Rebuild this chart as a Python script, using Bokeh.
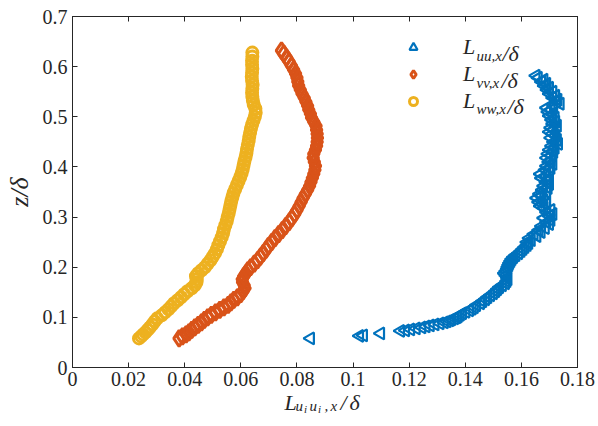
from bokeh.plotting import figure
from bokeh.layouts import column
from bokeh.models import Range1d, FixedTicker, LinearAxis, Label, Legend, LegendItem
from bokeh.embed import file_html
from bokeh.resources import INLINE

# ---------------- data ----------------
u_z = [0.058, 0.063, 0.064, 0.068, 0.073, 0.074, 0.076, 0.078, 0.080, 0.082,
       0.084, 0.086, 0.088, 0.090, 0.092, 0.094, 0.096, 0.098, 0.100, 0.102,
       0.105, 0.108, 0.111, 0.114, 0.117, 0.120, 0.124, 0.128, 0.132, 0.136,
       0.140, 0.144, 0.148, 0.152, 0.156, 0.160, 0.164, 0.168, 0.172, 0.176,
       0.180, 0.184, 0.188, 0.192, 0.196, 0.200, 0.204, 0.208, 0.212, 0.216,
       0.220, 0.224, 0.228, 0.232, 0.236, 0.240, 0.244, 0.248,
       0.250, 0.254, 0.258, 0.262, 0.266, 0.270, 0.274, 0.278, 0.282, 0.286,
       0.290, 0.294, 0.298, 0.302, 0.306, 0.310, 0.314, 0.318, 0.322, 0.326,
       0.330, 0.334, 0.338, 0.342, 0.346, 0.350, 0.354, 0.358, 0.362, 0.366,
       0.370, 0.374, 0.378, 0.382, 0.386, 0.390, 0.394, 0.398, 0.402, 0.406,
       0.410, 0.414, 0.418, 0.422, 0.426, 0.430, 0.434, 0.438, 0.442, 0.446,
       0.450, 0.454, 0.458, 0.462, 0.466, 0.470, 0.474, 0.478, 0.482, 0.486,
       0.490, 0.494, 0.498, 0.502, 0.506, 0.510, 0.514, 0.518, 0.522, 0.526,
       0.530, 0.534, 0.538, 0.542, 0.546, 0.550, 0.554, 0.558, 0.562, 0.566,
       0.570, 0.574, 0.578, 0.582]
u_x = [0.0848, 0.1023, 0.1037, 0.1098, 0.1169, 0.1187, 0.1205, 0.1225, 0.1245, 0.1260,
       0.1275, 0.1292, 0.1310, 0.1325, 0.1335, 0.1345, 0.1352, 0.1362, 0.1370, 0.1375,
       0.1382, 0.1390, 0.1402, 0.1415, 0.1424, 0.1432, 0.1440, 0.1454, 0.1462, 0.1472,
       0.1480, 0.1490, 0.1500, 0.1508, 0.1515, 0.1522, 0.1532, 0.1543, 0.1548, 0.1552,
       0.1550, 0.1545, 0.1540, 0.1545, 0.1550, 0.1552, 0.1555, 0.1558, 0.1562, 0.1566,
       0.1572, 0.1580, 0.1590, 0.1598, 0.1605, 0.1612, 0.1620, 0.1626,
       0.1620, 0.1635, 0.1628, 0.1655, 0.1645, 0.1670, 0.1662, 0.1685, 0.1672, 0.1700,
       0.1690, 0.1705, 0.1680, 0.1700, 0.1712, 0.1690, 0.1705, 0.1680, 0.1668, 0.1690,
       0.1662, 0.1680, 0.1655, 0.1672, 0.1665, 0.1690, 0.1675, 0.1695, 0.1680, 0.1700,
       0.1688, 0.1695, 0.1672, 0.1690, 0.1668, 0.1700, 0.1685, 0.1705, 0.1690, 0.1712,
       0.1698, 0.1705, 0.1690, 0.1708, 0.1695, 0.1715, 0.1700, 0.1720, 0.1708, 0.1732,
       0.1715, 0.1728, 0.1705, 0.1722, 0.1710, 0.1700, 0.1715, 0.1705, 0.1728, 0.1712,
       0.1722, 0.1708, 0.1720, 0.1700, 0.1712, 0.1695, 0.1705, 0.1690, 0.1715, 0.1738,
       0.1725, 0.1730, 0.1712, 0.1722, 0.1700, 0.1712, 0.1692, 0.1700, 0.1682, 0.1690,
       0.1672, 0.1680, 0.1660, 0.1652]

v_z = [0.058, 0.062, 0.066, 0.070, 0.075, 0.080, 0.085, 0.090, 0.095, 0.100,
       0.105, 0.110, 0.115, 0.120, 0.125, 0.130, 0.135, 0.140, 0.146, 0.152,
       0.158, 0.164, 0.170, 0.176, 0.182, 0.188, 0.194, 0.200, 0.207, 0.214,
       0.221, 0.228, 0.235, 0.242, 0.250, 0.258, 0.266, 0.274, 0.282, 0.290,
       0.298, 0.306, 0.314, 0.322, 0.330, 0.338, 0.346, 0.354, 0.362, 0.370,
       0.378, 0.386, 0.394, 0.402, 0.410, 0.418, 0.426, 0.434, 0.442, 0.450,
       0.458, 0.466, 0.474, 0.482, 0.490, 0.498, 0.506, 0.514, 0.522, 0.530,
       0.538, 0.546, 0.554, 0.562, 0.570, 0.578, 0.586, 0.594, 0.602, 0.610,
       0.618, 0.626, 0.632]
v_x = [0.0380, 0.0392, 0.0405, 0.0415, 0.0425, 0.0436, 0.0448, 0.0460, 0.0470, 0.0482,
       0.0495, 0.0510, 0.0525, 0.0540, 0.0555, 0.0565, 0.0575, 0.0588, 0.0600, 0.0608,
       0.0615, 0.0612, 0.0606, 0.0605, 0.0610, 0.0618, 0.0625, 0.0635, 0.0648, 0.0660,
       0.0670, 0.0680, 0.0690, 0.0698, 0.0710, 0.0722, 0.0735, 0.0748, 0.0760, 0.0772,
       0.0782, 0.0792, 0.0800, 0.0808, 0.0815, 0.0822, 0.0830, 0.0838, 0.0845, 0.0850,
       0.0855, 0.0860, 0.0864, 0.0866, 0.0862, 0.0858, 0.0860, 0.0866, 0.0870, 0.0872,
       0.0873, 0.0872, 0.0870, 0.0868, 0.0860, 0.0852, 0.0848, 0.0842, 0.0838, 0.0832,
       0.0826, 0.0818, 0.0812, 0.0806, 0.0803, 0.0800, 0.0795, 0.0788, 0.0780, 0.0772,
       0.0763, 0.0753, 0.0745]

w_z = [0.058, 0.062, 0.066, 0.070, 0.075, 0.080, 0.086, 0.092, 0.098, 0.104,
       0.110, 0.116, 0.122, 0.128, 0.134, 0.140, 0.146, 0.152, 0.158, 0.164,
       0.170, 0.176, 0.182, 0.188, 0.194, 0.200, 0.207, 0.214, 0.221, 0.228,
       0.236, 0.244, 0.252, 0.260, 0.268, 0.276, 0.284, 0.292, 0.300, 0.308,
       0.316, 0.324, 0.332, 0.340, 0.348, 0.356, 0.364, 0.372, 0.380, 0.388,
       0.396, 0.404, 0.412, 0.420, 0.428, 0.436, 0.444, 0.452, 0.460, 0.468,
       0.476, 0.484, 0.492, 0.500, 0.508, 0.516, 0.524, 0.532, 0.540, 0.548,
       0.556, 0.564, 0.572, 0.580, 0.588, 0.596, 0.604, 0.612, 0.620, 0.628]
w_x = [0.0237, 0.0245, 0.0252, 0.0260, 0.0268, 0.0276, 0.0285, 0.0293, 0.0302, 0.0318,
       0.0330, 0.0342, 0.0352, 0.0362, 0.0375, 0.0387, 0.0398, 0.0410, 0.0425, 0.0436,
       0.0442, 0.0443, 0.0440, 0.0448, 0.0460, 0.0472, 0.0482, 0.0492, 0.0500, 0.0508,
       0.0515, 0.0520, 0.0526, 0.0532, 0.0537, 0.0540, 0.0545, 0.0550, 0.0553, 0.0557,
       0.0560, 0.0563, 0.0566, 0.0570, 0.0574, 0.0580, 0.0586, 0.0592, 0.0598, 0.0603,
       0.0607, 0.0610, 0.0613, 0.0617, 0.0620, 0.0622, 0.0625, 0.0628, 0.0630, 0.0633,
       0.0636, 0.0640, 0.0645, 0.0650, 0.0653, 0.0652, 0.0646, 0.0643, 0.0641, 0.0640,
       0.0641, 0.0642, 0.0640, 0.0639, 0.0640, 0.0641, 0.0640, 0.0640, 0.0641, 0.0641]

x_ticks = [0, 0.02, 0.04, 0.06, 0.08, 0.1, 0.12, 0.14, 0.16, 0.18]
x_tick_labels = ["0", "0.02", "0.04", "0.06", "0.08", "0.1", "0.12", "0.14", "0.16", "0.18"]
y_ticks = [0, 0.1, 0.2, 0.3, 0.4, 0.5, 0.6, 0.7]
y_tick_labels = ["0", "0.1", "0.2", "0.3", "0.4", "0.5", "0.6", "0.7"]

# ---------------- styling ----------------
BLUE, ORANGE, YELLOW = "#0072BD", "#D95319", "#EDB120"
AX = "#262626"
FONT = "Liberation Serif"
TICK_FS = "20px"

p = figure(width=598, height=394, output_backend="svg", toolbar_location=None,
           x_range=Range1d(0, 0.18), y_range=Range1d(0, 0.7),
           min_border_left=72, min_border_right=21, min_border_top=16, min_border_bottom=27)
p.xgrid.visible = False
p.ygrid.visible = False
p.outline_line_color = AX
p.background_fill_color = "white"
p.border_fill_color = "white"

bottom_ax = p.below[0]
left_ax = p.left[0]
top_ax = LinearAxis()
right_ax = LinearAxis()
p.add_layout(top_ax, "above")
p.add_layout(right_ax, "right")

for ax in [bottom_ax, top_ax]:
    ax.ticker = FixedTicker(ticks=x_ticks)
for ax in [left_ax, right_ax]:
    ax.ticker = FixedTicker(ticks=y_ticks)
bottom_ax.major_label_overrides = dict(zip(x_ticks, x_tick_labels))
left_ax.major_label_overrides = dict(zip(y_ticks, y_tick_labels))
top_ax.major_label_overrides = {t: "" for t in x_ticks}
right_ax.major_label_overrides = {t: "" for t in y_ticks}

for ax in [bottom_ax, left_ax, top_ax, right_ax]:
    ax.axis_line_color = AX
    ax.major_tick_line_color = AX
    ax.major_tick_in = 5
    ax.major_tick_out = 0
    ax.minor_tick_line_color = None
    ax.major_label_text_font = FONT
    ax.major_label_text_font_size = TICK_FS
    ax.major_label_text_color = AX
top_ax.major_label_standoff = 0
right_ax.major_label_standoff = 0

bottom_ax.major_label_standoff = 4
left_ax.major_label_standoff = 5
left_ax.axis_label = "z/δ"
left_ax.axis_label_text_font = FONT
left_ax.axis_label_text_font_style = "italic"
left_ax.axis_label_text_font_size = "26px"
left_ax.axis_label_text_color = AX
left_ax.axis_label_standoff = 6

r_u = p.scatter(u_x, u_z, marker="triangle", angle=90, angle_units="deg", size=12,
                line_color=BLUE, fill_color=None, line_width=2.2)
r_v = p.scatter(v_x, v_z, marker="diamond", size=16,
                line_color=ORANGE, fill_color=None, line_width=3)
r_w = p.scatter(w_x, w_z, marker="circle", size=11,
                line_color=YELLOW, fill_color=None, line_width=3)

legend = Legend(items=[LegendItem(label="L", renderers=[r_u]),
                       LegendItem(label="L", renderers=[r_v]),
                       LegendItem(label="L", renderers=[r_w])],
                location=(331, 253), border_line_color=None, background_fill_alpha=0,
                glyph_width=20, glyph_height=20, spacing=1, padding=0, margin=0,
                label_height=20, label_standoff=40,
                label_text_font=FONT, label_text_font_style="italic",
                label_text_font_size="22px", label_text_color=AX)
p.add_layout(legend)


def lab(fig, text, x, y, size, style="italic"):
    fig.add_layout(Label(x=x, y=y, x_units="screen", y_units="screen", text=text,
                         text_font=FONT, text_font_size=size, text_font_style=style,
                         text_color=AX, text_baseline="alphabetic", text_align="left"))


# legend subscripts and "/δ" (frame-relative screen px)
legend_subs = ["uu,x", "vv,x", "ww,x"]
legend_slash_x = [430, 429, 435]
for i, sub in enumerate(legend_subs):
    yb = 314 - i * 26.5
    lab(p, sub, 404, yb - 2.5, "15px")
    lab(p, "/δ", legend_slash_x[i], yb, "22px")

# x-axis label  L_{u_i u_i, x}/δ, drawn in a strip pulled up under the plot
p2 = figure(width=598, height=34, output_backend="svg", toolbar_location=None,
            x_range=Range1d(0, 1), y_range=Range1d(0, 1), x_axis_type=None,
            y_axis_type=None, min_border=0)
p2.outline_line_color = None
p2.xgrid.visible = False
p2.ygrid.visible = False
p2.background_fill_alpha = 0
p2.border_fill_alpha = 0
p2.margin = (-12, 0, 0, 0)
xb = 13.8
lab(p2, "L", 212, xb, "22px")
lab(p2, "u", 223, xb - 3, "15px")
lab(p2, "i", 231.5, xb - 6.5, "11px")
lab(p2, "u", 237, xb - 3, "15px")
lab(p2, "i", 245.5, xb - 6.5, "11px")
lab(p2, ",", 252, xb - 3, "15px")
lab(p2, "x", 258, xb - 3, "15px")
lab(p2, "/", 268, xb, "22px")
lab(p2, "δ", 277, xb, "22px")

layout = column(p, p2, spacing=0)
open("out.html", "w").write(file_html(layout, INLINE))
